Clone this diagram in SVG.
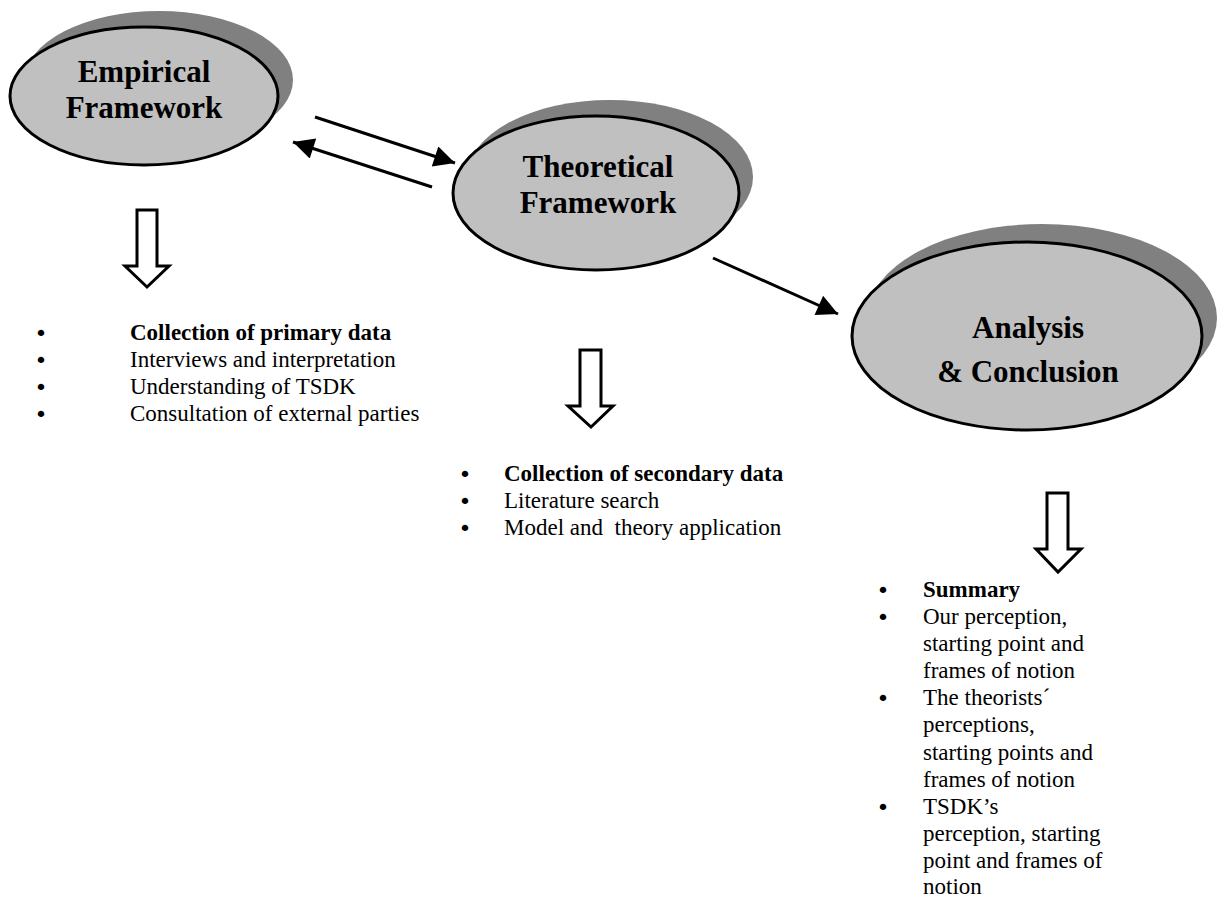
<svg xmlns="http://www.w3.org/2000/svg" width="1221" height="899" viewBox="0 0 1221 899">
<defs>
<style>
.shadow{fill:#808080;stroke:none}
.ell{fill:#c0c0c0;stroke:#000;stroke-width:3}
.title{font-family:"Liberation Serif","Times New Roman",serif;font-weight:bold;font-size:31px;fill:#000;text-anchor:middle}
.txt{font-family:"Liberation Serif","Times New Roman",serif;font-size:23px;fill:#000}
.bul{font-family:"DejaVu Sans",sans-serif;font-size:22px;fill:#000;text-anchor:middle}
.b{font-weight:bold}
.conn{stroke:#000;stroke-width:3;fill:none}
.block{fill:#fff;stroke:#000;stroke-width:3;stroke-linejoin:miter}
</style>
<marker id="ah" viewBox="0 0 10 10" refX="10" refY="5" markerWidth="8.5" markerHeight="7" markerUnits="strokeWidth" orient="auto">
<path d="M0,0 L10,5 L0,10 z" fill="#000"/>
</marker>
</defs>
<rect width="1221" height="899" fill="#fff"/>

<g id="empirical">
<ellipse class="shadow" cx="159" cy="80" rx="134" ry="69"/>
<ellipse class="ell" cx="144" cy="96" rx="134" ry="69"/>
<text class="title" x="144" y="82">Empirical</text>
<text class="title" x="144" y="118">Framework</text>
</g>

<g id="theoretical">
<ellipse class="shadow" cx="610" cy="177" rx="143" ry="77"/>
<ellipse class="ell" cx="596" cy="193" rx="143" ry="77"/>
<text class="title" x="598" y="177">Theoretical</text>
<text class="title" x="598" y="213">Framework</text>
</g>

<g id="analysis">
<ellipse class="shadow" cx="1042" cy="318" rx="175" ry="94"/>
<ellipse class="ell" cx="1027" cy="336" rx="175" ry="94"/>
<text class="title" x="1028" y="338">Analysis</text>
<text class="title" x="1028" y="382">&amp; Conclusion</text>
</g>

<g id="connectors">
<line class="conn" x1="315" y1="117" x2="455" y2="163" marker-end="url(#ah)"/>
<line class="conn" x1="432" y1="187" x2="293" y2="142" marker-end="url(#ah)"/>
<line class="conn" x1="713" y1="258" x2="838" y2="314" marker-end="url(#ah)"/>
<polygon class="block" points="137,210 157,210 157,266 169,266 147,287 125,266 137,266"/>
<polygon class="block" points="580,350 601,350 601,406 613,406 591,427 568,406 580,406"/>
<polygon class="block" points="1047,493 1068,493 1068,549 1081,549 1058,572 1036,549 1047,549"/>
</g>

<g id="list-empirical" class="txt">
<text x="41" y="341" class="bul">•</text><text x="130" y="340" class="b">Collection of primary data</text>
<text x="41" y="368" class="bul">•</text><text x="130" y="367">Interviews and interpretation</text>
<text x="41" y="395" class="bul">•</text><text x="130" y="394">Understanding of TSDK</text>
<text x="41" y="422" class="bul">•</text><text x="130" y="421">Consultation of external parties</text>
</g>

<g id="list-theoretical" class="txt">
<text x="465" y="482" class="bul">•</text><text x="504" y="481" class="b">Collection of secondary data</text>
<text x="465" y="509" class="bul">•</text><text x="504" y="508">Literature search</text>
<text x="465" y="536" class="bul">•</text><text x="504" y="535" xml:space="preserve">Model and  theory application</text>
</g>

<g id="list-analysis" class="txt">
<text x="883" y="598" class="bul">•</text><text x="923" y="597" class="b">Summary</text>
<text x="883" y="625" class="bul">•</text><text x="923" y="624">Our perception,</text>
<text x="923" y="651">starting point and</text>
<text x="923" y="678">frames of notion</text>
<text x="883" y="706" class="bul">•</text><text x="923" y="705">The theorists´</text>
<text x="923" y="732">perceptions,</text>
<text x="923" y="760">starting points and</text>
<text x="923" y="787">frames of notion</text>
<text x="883" y="815" class="bul">•</text><text x="923" y="814">TSDK’s</text>
<text x="923" y="841">perception, starting</text>
<text x="923" y="868">point and frames of</text>
<text x="923" y="894">notion</text>
</g>
</svg>
